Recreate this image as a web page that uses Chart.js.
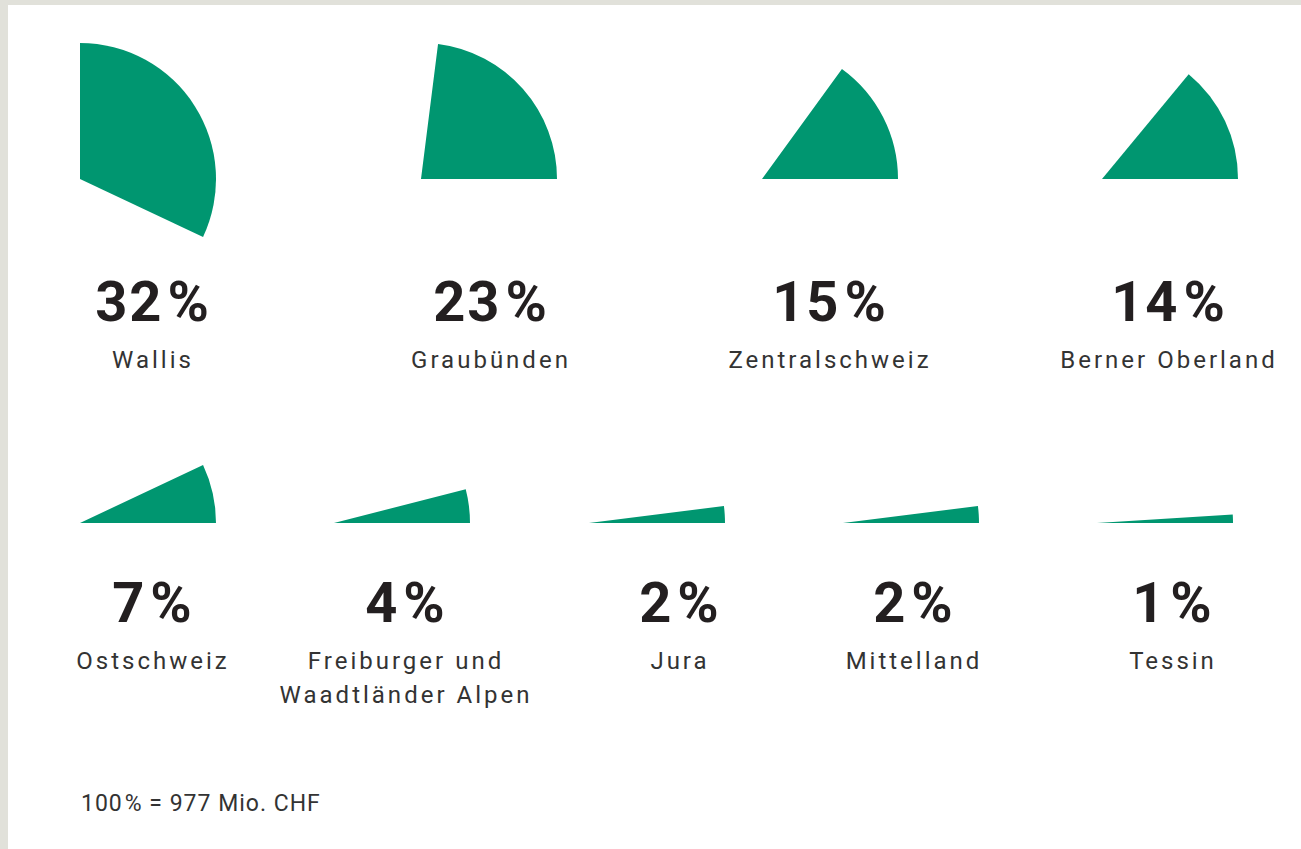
<!DOCTYPE html>
<html lang="de">
<head>
<meta charset="utf-8">
<title>Anteile nach Region</title>
<script src="https://cdn.jsdelivr.net/npm/chart.js@4/dist/chart.umd.min.js"></script>
<style>
  html, body { margin: 0; padding: 0; background: #fff; }
  body {
    position: relative;
    width: 1301px;
    height: 849px;
    overflow: hidden;
    font-family: Roboto, "DejaVu Sans", sans-serif;
  }
  .rand { position: absolute; left: 0; top: 0; background: #e1e1da; z-index: 2; }
  .oben { width: 1301px; height: 5px; }
  .links { width: 8px; height: 849px; }
  canvas.keil { position: absolute; z-index: 1; }
  .prozent, .name {
    position: absolute;
    width: 320px;
    margin-left: -160px;
    text-align: center;
  }
  .prozent {
    font-weight: 700;
    font-size: 56px;
    line-height: 56px;
    letter-spacing: 2px;
    color: #231f20;
  }
  .prozent .zeichen { margin-left: 4px; }
  .name {
    font-size: 24px;
    line-height: 34px;
    letter-spacing: 3px;
    color: #333;
    white-space: pre-line;
  }
  .fussnote {
    position: absolute;
    left: 81px;
    top: 789px;
    font-size: 23px;
    line-height: 30px;
    letter-spacing: 1px;
    color: #333;
  }
  .fussnote .zeichen { margin-left: 2px; }
</style>
</head>
<body>
<div class="rand oben"></div>
<div class="rand links"></div>
<div id="flaeche"></div>
<div class="fussnote" id="fussnote"></div>

<script>
const regionen = [
  "Wallis",
  "Graubünden",
  "Zentralschweiz",
  "Berner Oberland",
  "Ostschweiz",
  "Freiburger und\nWaadtländer Alpen",
  "Jura",
  "Mittelland",
  "Tessin",
];
const anteile = [32, 23, 15, 14, 7, 4, 2, 2, 1];
const gesamtMio = 977;

// Layout: Mittelpunkt der Keile und Textmitte pro Reihe
const RADIUS = 136;
const reihen = [
  { y: 179, textY: 274, keilX: [80, 421, 762, 1102], textX: [153, 491, 830, 1169] },
  { y: 523, textY: 575, keilX: [80, 334, 589, 843, 1097], textX: [153, 406, 680, 914, 1173] },
];

const flaeche = document.getElementById("flaeche");
document.getElementById("fussnote").innerHTML =
  `100<span class="zeichen">%</span> = ${gesamtMio} Mio. CHF`;

let i = 0;
reihen.forEach((reihe) => {
  reihe.keilX.forEach((x, j) => {
    const wert = anteile[i];
    const name = regionen[i];

    const canvas = document.createElement("canvas");
    canvas.className = "keil";
    canvas.width = RADIUS * 2;
    canvas.height = RADIUS * 2;
    canvas.style.left = x - RADIUS + "px";
    canvas.style.top = reihe.y - RADIUS + "px";
    flaeche.appendChild(canvas);

    const prozent = document.createElement("div");
    prozent.className = "prozent";
    prozent.style.left = reihe.textX[j] + "px";
    prozent.style.top = reihe.textY + "px";
    prozent.innerHTML = `${wert}<span class="zeichen">%</span>`;
    flaeche.appendChild(prozent);

    const label = document.createElement("div");
    label.className = "name";
    label.style.left = reihe.textX[j] + "px";
    label.style.top = reihe.textY + 69 + "px";
    label.textContent = name;
    flaeche.appendChild(label);

    // Keil endet bei 3 Uhr, grosse Anteile starten oben
    const winkel = wert * 3.6;
    new Chart(canvas, {
      type: "pie",
      data: {
        labels: [name, "Rest"],
        datasets: [
          {
            data: [wert, 100 - wert],
            backgroundColor: ["#009670", "rgba(0,0,0,0)"],
            borderWidth: 0,
            offset: 0,
            hoverOffset: 0,
          },
        ],
      },
      options: {
        responsive: false,
        animation: false,
        events: [],
        rotation: winkel >= 90 ? 0 : 90 - winkel,
        layout: { padding: 0 },
        plugins: {
          legend: { display: false },
          tooltip: { enabled: false },
        },
      },
    });
    i++;
  });
});
</script>
</body>
</html>
